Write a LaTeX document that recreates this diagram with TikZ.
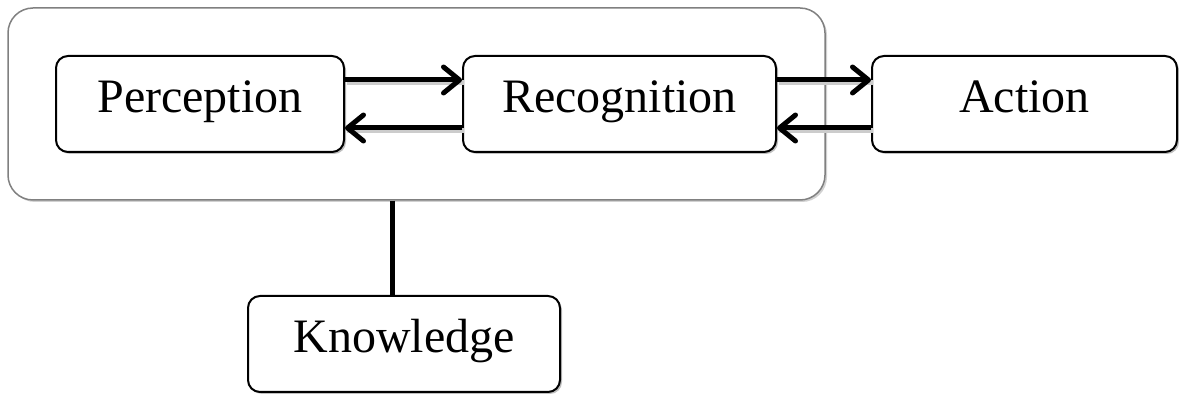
\documentclass[tikz,border=0pt]{standalone}
\usepackage{fontspec}
\setmainfont{Liberation Serif}
\usetikzlibrary{arrows.meta,shadows}

\tikzset{
  box/.style={draw=black, line width=2pt, rounded corners=12pt, fill=white,
    minimum height=96pt, inner sep=0pt,
    text height=32pt, text depth=14pt,
    font=\fontsize{48}{58}\selectfont,
    drop shadow={shadow xshift=2pt, shadow yshift=-2pt, fill=black!25, opacity=1}},
  groupbox/.style={draw=black!50, line width=1.5pt, rounded corners=25pt, fill=white,
    minimum width=817pt, minimum height=192pt, inner sep=0pt,
    drop shadow={shadow xshift=2pt, shadow yshift=-2pt, fill=black!18, opacity=1}},
  arr/.style={line width=5pt, -{Straight Barb[length=16pt, width=26pt, line cap=round, line join=round]},
    preaction={draw=black!20, line width=5pt, -, transform canvas={shift={(2pt,-3pt)}}}},
  link/.style={line width=5pt}
}

\begin{document}
\begin{tikzpicture}[x=1pt, y=-1pt]
  \useasboundingbox (0,0) rectangle (1179,395);

  % enclosing group
  \node[groupbox] (group) at (416.5,104) {};

  % processing stages
  \node[box, minimum width=288pt] (perc) at (200,104) {Perception};
  \node[box, minimum width=313pt] (reco) at (619.5,104) {Recognition};
  \node[box, minimum width=305pt] (act)  at (1024.5,104) {Action};
  \node[box, minimum width=312pt] (know) at (404,344) {Knowledge};

  % forward and feedback arrows
  \draw[arr] ([yshift=24pt]perc.east) -- ([yshift=24pt]reco.west);
  \draw[arr] ([yshift=-24pt]reco.west) -- ([yshift=-24pt]perc.east);
  \draw[arr] ([yshift=24pt]reco.east) -- ([yshift=24pt]act.west);
  \draw[arr] ([yshift=-24pt]act.west) -- ([yshift=-24pt]reco.east);

  % link from the group to the knowledge base
  \coordinate (kt) at (392,296);
  \draw[link] (group.south -| kt) -- (kt);
\end{tikzpicture}
\end{document}
